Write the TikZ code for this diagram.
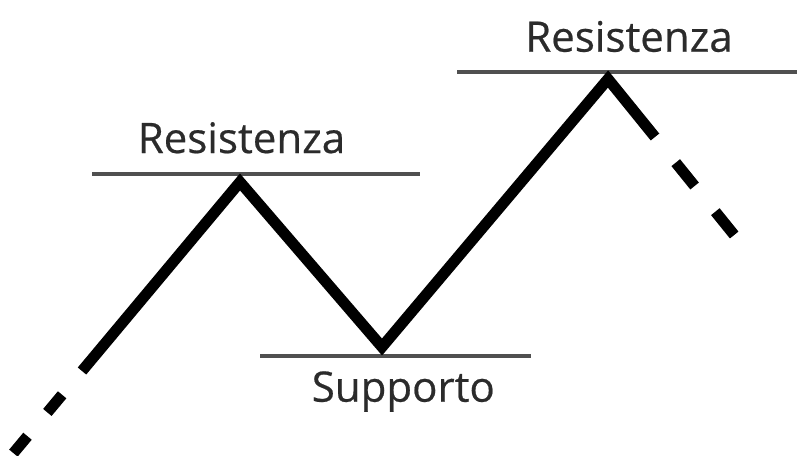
\documentclass[tikz,border=0pt]{standalone}
\usepackage{fontspec}
\setmainfont{Open Sans}
\newfontface\lblfont{Open Sans}[FakeBold=0.5]
\definecolor{txt}{HTML}{2B2B2B}
\definecolor{lvl}{HTML}{505050}
\begin{document}
\begin{tikzpicture}[x=1pt,y=-1pt,
  trend/.style={line width=11pt, black, line join=miter, line cap=butt},
  level/.style={line width=4.5pt, lvl},
  lbl/.style={anchor=base, text=txt, font=\lblfont\fontsize{42}{48}\selectfont, inner sep=0pt}]
\useasboundingbox (0,0) rectangle (797,455);
% zigzag vertices
\coordinate (l0) at (13.4,453.1);
\coordinate (l1) at (82,371);
\coordinate (p1) at (240,182);
\coordinate (v1) at (382,347);
\coordinate (p2) at (608,79);
\coordinate (r1) at (655,137);
\coordinate (r2) at (735,236);
% level lines
\coordinate (a1) at (92,174);
\coordinate (a2) at (420,174);
\coordinate (b1) at (457,72);
\coordinate (b2) at (797,72);
\coordinate (c1) at (260,356);
\coordinate (c2) at (531,356);
\draw[level] (a1) -- (a2);
\draw[level] (b1) -- (b2);
\draw[level] (c1) -- (c2);
% trend line
\draw[trend] (l1) -- (p1) -- (v1) -- (p2) -- (r1);
\draw[trend, dash pattern=on 23pt off 31pt, dash phase=23pt] (l1) -- (l0);
\draw[trend, dash pattern=on 30pt off 33pt, dash phase=30pt] (r1) -- (r2);
% labels
\node[lbl] (t1) at (241.5,153) {Resistenza};
\node[lbl] (t2) at (629,51.7) {Resistenza};
\node[lbl] (t3) at (403.3,401.7) {Supporto};
\end{tikzpicture}
\end{document}
